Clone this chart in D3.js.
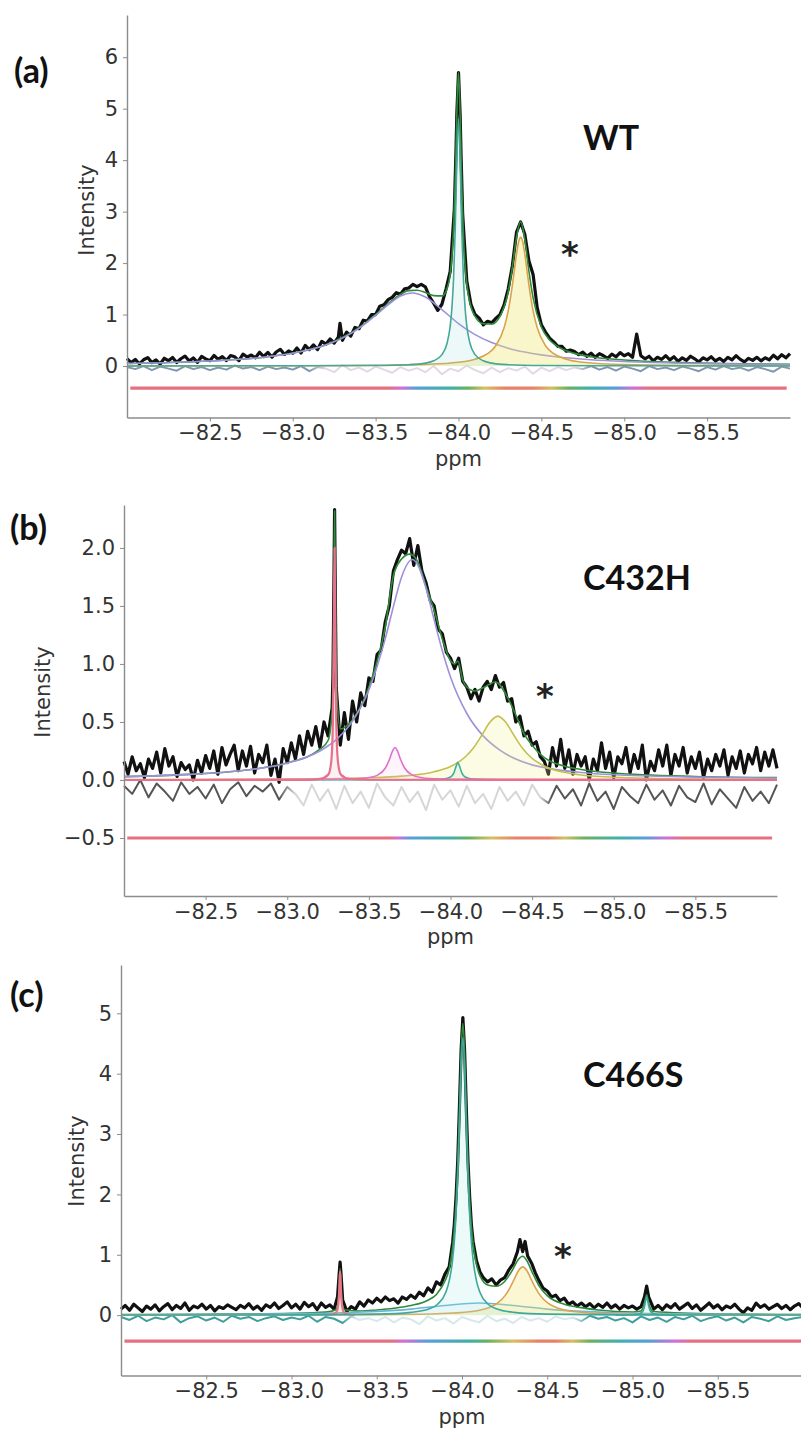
<!DOCTYPE html>
<html>
<head>
<meta charset="utf-8">
<script src="https://cdn.jsdelivr.net/npm/d3@7"></script>
<style>
body { margin: 0; background: #fff; }
</style>
</head>
<body>
<svg id="fig" width="801" height="1433"></svg>
<script>
// ---------- shared ----------
var xTicks = [-82.5, -83.0, -83.5, -84.0, -84.5, -85.0, -85.5];
var residPpm = [-82.0,-82.05,-82.1,-82.15,-82.2,-82.25,-82.3,-82.35,-82.4,-82.45,
  -82.5,-82.55,-82.6,-82.65,-82.7,-82.75,-82.8,-82.85,-82.9,-82.95,
  -83.0,-83.05,-83.1,-83.15,-83.2,-83.25,-83.3,-83.35,-83.4,-83.45,
  -83.5,-83.55,-83.6,-83.65,-83.7,-83.75,-83.8,-83.85,-83.9,-83.95,
  -84.0,-84.05,-84.1,-84.15,-84.2,-84.25,-84.3,-84.35,-84.4,-84.45,
  -84.5,-84.55,-84.6,-84.65,-84.7,-84.75,-84.8,-84.85,-84.9,-84.95,
  -85.0,-85.05,-85.1,-85.15,-85.2,-85.25,-85.3,-85.35,-85.4,-85.45,
  -85.5,-85.55,-85.6,-85.65,-85.7,-85.75,-85.8,-85.85,-85.9,-85.95,-86.0];

// ---------- (a) WT ----------
var yTicksA = [0, 1, 2, 3, 4, 5, 6];
var blackA = [[-82.000,0.145],[-82.025,0.067],[-82.050,0.128],[-82.075,0.040],[-82.100,0.122],[-82.125,0.164],[-82.150,0.066],[-82.175,0.118],[-82.200,0.039],[-82.225,0.151],[-82.250,0.103],[-82.275,0.166],[-82.300,0.068],[-82.325,0.141],[-82.350,0.193],[-82.375,0.096],[-82.400,0.158],[-82.425,0.072],[-82.450,0.186],[-82.475,0.139],[-82.500,0.103],[-82.525,0.206],[-82.550,0.130],[-82.575,0.184],[-82.600,0.108],[-82.625,0.203],[-82.650,0.179],[-82.675,0.104],[-82.700,0.230],[-82.725,0.176],[-82.750,0.213],[-82.775,0.160],[-82.800,0.267],[-82.825,0.185],[-82.850,0.264],[-82.875,0.173],[-82.900,0.273],[-82.925,0.324],[-82.950,0.226],[-82.975,0.292],[-83.000,0.249],[-83.025,0.350],[-83.050,0.254],[-83.075,0.400],[-83.100,0.320],[-83.125,0.410],[-83.150,0.320],[-83.175,0.480],[-83.200,0.425],[-83.225,0.525],[-83.250,0.447],[-83.275,0.560],[-83.285,0.830],[-83.300,0.500],[-83.325,0.660],[-83.350,0.580],[-83.375,0.750],[-83.400,0.725],[-83.425,0.890],[-83.450,0.875],[-83.475,1.000],[-83.500,1.000],[-83.525,1.160],[-83.550,1.190],[-83.575,1.290],[-83.600,1.335],[-83.625,1.425],[-83.650,1.395],[-83.675,1.500],[-83.700,1.515],[-83.725,1.586],[-83.750,1.542],[-83.775,1.586],[-83.800,1.540],[-83.825,1.350],[-83.850,1.220],[-83.875,1.080],[-83.900,1.200],[-83.925,1.500],[-83.950,1.840],[-83.975,3.050],[-83.985,4.200],[-83.990,4.900],[-84.000,5.700],[-84.010,4.860],[-84.015,4.150],[-84.025,2.950],[-84.050,1.650],[-84.075,1.200],[-84.100,1.000],[-84.125,0.930],[-84.150,0.800],[-84.175,0.870],[-84.200,0.840],[-84.225,0.925],[-84.250,1.000],[-84.275,1.190],[-84.300,1.500],[-84.325,1.950],[-84.350,2.600],[-84.375,2.800],[-84.400,2.560],[-84.425,2.040],[-84.450,1.780],[-84.475,1.130],[-84.500,0.800],[-84.525,0.660],[-84.550,0.540],[-84.575,0.470],[-84.600,0.380],[-84.625,0.380],[-84.650,0.290],[-84.675,0.310],[-84.700,0.280],[-84.725,0.220],[-84.750,0.270],[-84.775,0.190],[-84.800,0.250],[-84.825,0.170],[-84.850,0.240],[-84.875,0.200],[-84.900,0.150],[-84.925,0.230],[-84.950,0.180],[-84.975,0.260],[-85.000,0.200],[-85.025,0.240],[-85.050,0.170],[-85.075,0.620],[-85.100,0.200],[-85.125,0.140],[-85.150,0.190],[-85.175,0.100],[-85.200,0.170],[-85.225,0.130],[-85.250,0.200],[-85.275,0.120],[-85.300,0.180],[-85.325,0.090],[-85.350,0.160],[-85.375,0.110],[-85.400,0.190],[-85.425,0.140],[-85.450,0.080],[-85.475,0.160],[-85.500,0.120],[-85.525,0.180],[-85.550,0.100],[-85.575,0.150],[-85.600,0.090],[-85.625,0.170],[-85.650,0.120],[-85.675,0.200],[-85.700,0.130],[-85.725,0.080],[-85.750,0.150],[-85.775,0.110],[-85.800,0.170],[-85.825,0.100],[-85.850,0.160],[-85.875,0.120],[-85.900,0.210],[-85.925,0.140],[-85.950,0.220],[-85.975,0.160],[-86.000,0.240]];
var fitA = [[-82.0,0.05],[-82.5,0.098],[-82.8,0.162],[-83.0,0.254],[-83.2,0.415],[-83.4,0.745],[-83.5,1.0],[-83.6,1.275],[-83.7,1.465],[-83.75,1.472],[-83.8,1.43],[-83.85,1.368],[-83.9,1.363],[-83.925,1.456],[-83.95,1.79],[-83.97,2.645],[-83.98,3.575],[-83.99,4.91],[-84.0,5.7],[-84.01,4.855],[-84.02,3.49],[-84.03,2.52],[-84.04,1.937],[-84.05,1.585],[-84.07,1.21],[-84.1,0.964],[-84.15,0.82],[-84.2,0.816],[-84.25,0.966],[-84.3,1.445],[-84.325,1.918],[-84.35,2.503],[-84.375,2.804],[-84.4,2.464],[-84.425,1.838],[-84.45,1.325],[-84.5,0.758],[-84.55,0.505],[-84.6,0.375],[-84.7,0.246],[-84.8,0.18],[-85.0,0.118],[-85.3,0.071],[-85.6,0.049],[-86.0,0.033]];
var purpleA = [[-82.0,0.05],[-82.5,0.098],[-82.8,0.162],[-83.0,0.247],[-83.2,0.408],[-83.3,0.542],[-83.4,0.732],[-83.5,0.983],[-83.6,1.254],[-83.65,1.359],[-83.72,1.42],[-83.8,1.341],[-83.9,1.095],[-84.0,0.826],[-84.1,0.61],[-84.2,0.456],[-84.3,0.347],[-84.4,0.271],[-84.5,0.216],[-84.6,0.175],[-84.8,0.121],[-85.0,0.088],[-85.3,0.059],[-85.6,0.042],[-86.0,0.029]];
var tealA = [[-82.0,0.001],[-83.0,0.005],[-83.5,0.009],[-83.7,0.026],[-83.8,0.057],[-83.85,0.101],[-83.9,0.222],[-83.93,0.432],[-83.95,0.779],[-83.96,1.115],[-83.97,1.68],[-83.98,2.63],[-83.99,3.98],[-84.0,4.8],[-84.01,3.98],[-84.02,2.63],[-84.03,1.68],[-84.04,1.115],[-84.05,0.779],[-84.07,0.432],[-84.1,0.222],[-84.15,0.101],[-84.2,0.057],[-84.3,0.026],[-84.5,0.009],[-85.0,0.005],[-86.0,0.001]];
var orangeA = [[-82.0,0.002],[-83.0,0.005],[-83.5,0.014],[-83.8,0.032],[-84.0,0.073],[-84.1,0.132],[-84.175,0.239],[-84.225,0.395],[-84.275,0.742],[-84.3,1.072],[-84.325,1.57],[-84.3375,1.875],[-84.35,2.178],[-84.3625,2.41],[-84.375,2.5],[-84.3875,2.41],[-84.4,2.178],[-84.4125,1.875],[-84.425,1.57],[-84.45,1.072],[-84.475,0.742],[-84.525,0.395],[-84.575,0.239],[-84.65,0.132],[-84.75,0.073],[-85.0,0.027],[-85.5,0.008],[-86.0,0.004]];
var residA = [-0.02,-0.06,0.0,-0.08,-0.01,-0.05,-0.09,0.0,-0.06,-0.02,
  -0.08,-0.03,-0.07,0.01,-0.05,-0.02,-0.08,-0.01,-0.06,-0.03,
  -0.07,0.0,-0.1,-0.02,-0.05,-0.12,0.02,-0.08,-0.03,-0.11,
  -0.01,-0.07,-0.13,-0.02,-0.09,-0.04,-0.12,0.0,-0.16,-0.05,
  -0.1,0.01,-0.08,-0.14,-0.03,-0.12,-0.04,-0.09,-0.01,-0.15,
  -0.03,-0.1,-0.02,-0.08,-0.03,-0.06,0.0,-0.07,-0.02,-0.09,
  -0.01,-0.05,-0.1,0.0,-0.06,-0.03,-0.08,-0.01,-0.05,-0.1,
  -0.02,-0.07,0.0,-0.06,-0.03,-0.09,-0.02,-0.06,-0.11,-0.01,-0.05];
var residStopsA = [[-82.0,'#8296ad'],[-83.1,'#8296ad'],[-83.2,'#e2d8e4'],[-84.7,'#e2d8e4'],[-84.8,'#8296ad'],[-86.0,'#8296ad']];
var bandA = [[-82.02,-0.43],[-85.98,-0.43]];
var bandStopsA = [[-82.0,'#e5707f'],[-83.58,'#e5707f'],[-83.66,'#d070d8'],[-83.74,'#5a9ed8'],[-83.95,'#40b0a8'],[-84.06,'#6cb060'],[-84.16,'#d8c060'],[-84.28,'#e8806a'],[-84.45,'#e8806a'],[-84.56,'#d0c060'],[-84.66,'#6cb060'],[-84.8,'#40b0b0'],[-84.95,'#5a9ed8'],[-85.05,'#d070d8'],[-85.15,'#e5707f'],[-86.0,'#e5707f']];

// ---------- (b) C432H ----------
var yTicksB = [-0.5, 0.0, 0.5, 1.0, 1.5, 2.0];
var blackB = [[-82.000,0.16],[-82.025,0.05],[-82.050,0.20],[-82.075,0.08],[-82.100,0.14],[-82.125,0.02],[-82.150,0.18],[-82.175,0.10],[-82.200,0.24],[-82.225,0.06],[-82.250,0.27],[-82.275,0.12],[-82.300,0.20],[-82.325,0.03],[-82.350,0.15],[-82.375,0.09],[-82.400,0.13],[-82.425,0.00],[-82.450,0.17],[-82.475,0.06],[-82.500,0.21],[-82.525,0.10],[-82.550,0.25],[-82.575,0.05],[-82.600,0.28],[-82.625,0.13],[-82.650,0.22],[-82.675,0.30],[-82.700,0.08],[-82.725,0.25],[-82.750,0.12],[-82.775,0.29],[-82.800,0.06],[-82.825,0.22],[-82.850,0.15],[-82.875,0.30],[-82.900,0.04],[-82.925,0.18],[-82.950,-0.02],[-82.975,0.27],[-83.000,0.15],[-83.025,0.32],[-83.050,0.18],[-83.075,0.38],[-83.100,0.22],[-83.125,0.42],[-83.150,0.30],[-83.175,0.46],[-83.200,0.28],[-83.225,0.50],[-83.250,0.38],[-83.275,0.62],[-83.280,0.90],[-83.285,1.55],[-83.290,2.33],[-83.295,1.50],[-83.300,0.80],[-83.325,0.30],[-83.350,0.58],[-83.375,0.35],[-83.400,0.68],[-83.425,0.50],[-83.450,0.75],[-83.475,0.64],[-83.500,0.88],[-83.525,0.85],[-83.550,1.08],[-83.575,1.12],[-83.600,1.36],[-83.625,1.50],[-83.650,1.80],[-83.675,1.90],[-83.700,1.98],[-83.725,1.95],[-83.750,2.08],[-83.775,1.85],[-83.800,2.02],[-83.825,1.80],[-83.850,1.70],[-83.875,1.55],[-83.900,1.50],[-83.925,1.30],[-83.950,1.26],[-83.975,1.10],[-84.000,1.05],[-84.025,0.96],[-84.050,1.05],[-84.075,0.85],[-84.100,0.80],[-84.125,0.70],[-84.150,0.78],[-84.175,0.68],[-84.200,0.80],[-84.225,0.85],[-84.250,0.78],[-84.275,0.90],[-84.300,0.80],[-84.325,0.84],[-84.350,0.68],[-84.375,0.70],[-84.400,0.50],[-84.425,0.55],[-84.450,0.38],[-84.475,0.42],[-84.500,0.30],[-84.525,0.33],[-84.550,0.20],[-84.575,0.16],[-84.600,0.05],[-84.625,0.28],[-84.650,0.12],[-84.675,0.35],[-84.700,0.10],[-84.725,0.26],[-84.750,0.05],[-84.775,0.22],[-84.800,0.12],[-84.825,0.20],[-84.850,0.00],[-84.875,0.18],[-84.900,0.08],[-84.925,0.32],[-84.950,0.10],[-84.975,0.24],[-85.000,0.02],[-85.025,0.20],[-85.050,0.14],[-85.075,0.28],[-85.100,0.06],[-85.125,0.22],[-85.150,0.10],[-85.175,0.30],[-85.200,0.00],[-85.225,0.16],[-85.250,0.08],[-85.275,0.26],[-85.300,0.12],[-85.325,0.30],[-85.350,0.04],[-85.375,0.22],[-85.400,0.12],[-85.425,0.28],[-85.450,0.06],[-85.475,0.20],[-85.500,0.10],[-85.525,0.24],[-85.550,0.02],[-85.575,0.18],[-85.600,0.08],[-85.625,0.22],[-85.650,0.12],[-85.675,0.26],[-85.700,0.04],[-85.725,0.20],[-85.750,0.10],[-85.775,0.25],[-85.800,0.06],[-85.825,0.22],[-85.850,0.14],[-85.875,0.28],[-85.900,0.08],[-85.925,0.24],[-85.950,0.12],[-85.975,0.26],[-86.000,0.10]];
var fitB = [[-82.0,0.029],[-82.4,0.048],[-82.8,0.094],[-83.0,0.148],[-83.2,0.265],[-83.25,0.34],[-83.275,0.6],[-83.28,0.85],[-83.285,1.5],[-83.29,2.32],[-83.295,1.51],[-83.3,0.86],[-83.325,0.44],[-83.4,0.52],[-83.5,0.8],[-83.6,1.317],[-83.65,1.76],[-83.7,1.904],[-83.75,1.947],[-83.8,1.879],[-83.85,1.668],[-83.9,1.461],[-83.95,1.215],[-84.0,1.028],[-84.025,1.0],[-84.045,1.025],[-84.075,0.862],[-84.1,0.801],[-84.15,0.767],[-84.2,0.795],[-84.275,0.845],[-84.35,0.71],[-84.4,0.56],[-84.45,0.40],[-84.5,0.30],[-84.6,0.17],[-84.8,0.09],[-85.0,0.06],[-85.5,0.03],[-86.0,0.02]];
var purpleB = [[-82.0,0.029],[-82.4,0.048],[-82.6,0.065],[-82.8,0.094],[-83.0,0.145],[-83.2,0.25],[-83.3,0.348],[-83.4,0.507],[-83.5,0.775],[-83.6,1.216],[-83.65,1.493],[-83.7,1.748],[-83.765,1.9],[-83.8,1.853],[-83.85,1.653],[-83.9,1.38],[-83.95,1.113],[-84.0,0.887],[-84.1,0.573],[-84.2,0.38],[-84.3,0.26],[-84.4,0.18],[-84.5,0.13],[-84.6,0.1],[-84.8,0.065],[-85.0,0.045],[-85.5,0.025],[-86.0,0.016]];
var magentaB = [[-82.0,0.0],[-83.3,0.006],[-83.45,0.012],[-83.5,0.021],[-83.55,0.04],[-83.6,0.101],[-83.625,0.174],[-83.645,0.25],[-83.66,0.28],[-83.675,0.25],[-83.695,0.174],[-83.72,0.101],[-83.77,0.04],[-83.82,0.021],[-83.87,0.012],[-84.0,0.006],[-86.0,0.0]];
var tealB = [[-82.0,0.0],[-83.8,0.002],[-83.95,0.007],[-84.0,0.025],[-84.02,0.059],[-84.035,0.12],[-84.045,0.15],[-84.055,0.12],[-84.07,0.059],[-84.09,0.025],[-84.14,0.007],[-84.3,0.002],[-86.0,0.0]];
var yellowB = [[-82.0,0.003],[-83.0,0.007],[-83.5,0.019],[-83.7,0.033],[-83.9,0.071],[-84.0,0.116],[-84.09,0.198],[-84.14,0.275],[-84.19,0.381],[-84.24,0.495],[-84.29,0.55],[-84.34,0.495],[-84.39,0.381],[-84.44,0.275],[-84.49,0.198],[-84.59,0.11],[-84.69,0.068],[-84.79,0.045],[-85.0,0.024],[-85.5,0.008],[-86.0,0.004]];
var pinkB = [[-82.0,0.0],[-83.1,0.001],[-83.2,0.009],[-83.25,0.044],[-83.265,0.11],[-83.275,0.276],[-83.28,0.53],[-83.285,1.18],[-83.29,2.0],[-83.295,1.18],[-83.3,0.53],[-83.305,0.276],[-83.315,0.11],[-83.33,0.044],[-83.38,0.009],[-83.5,0.002],[-86.0,0.0]];
var residB = [-0.05,-0.12,0.0,-0.15,-0.03,-0.1,-0.18,-0.02,-0.12,-0.06,
  -0.16,-0.04,-0.2,-0.08,-0.02,-0.14,-0.05,-0.1,-0.03,-0.17,
  -0.06,-0.12,-0.22,-0.04,-0.18,-0.08,-0.25,-0.05,-0.2,-0.1,
  -0.24,-0.03,-0.15,-0.22,-0.06,-0.19,-0.1,-0.26,-0.04,-0.17,
  -0.09,-0.23,-0.05,-0.2,-0.12,-0.25,-0.06,-0.18,-0.1,-0.22,
  -0.04,-0.15,-0.2,-0.05,-0.16,-0.08,-0.22,-0.03,-0.18,-0.1,
  -0.25,-0.06,-0.14,-0.2,-0.04,-0.17,-0.09,-0.22,-0.05,-0.15,
  -0.19,-0.03,-0.21,-0.08,-0.16,-0.24,-0.06,-0.18,-0.1,-0.2,-0.04];
var residStopsB = [[-82.0,'#555555'],[-82.95,'#555555'],[-83.05,'#d6d6d6'],[-84.55,'#d6d6d6'],[-84.62,'#555555'],[-86.0,'#555555']];
var bandB = [[-82.02,-0.5],[-85.97,-0.5]];
var bandStopsB = [[-82.0,'#e5707f'],[-83.63,'#e5707f'],[-83.68,'#d070d8'],[-83.75,'#5a9ed8'],[-84.0,'#40b0a8'],[-84.12,'#6cb060'],[-84.25,'#d8c060'],[-84.4,'#e8806a'],[-84.6,'#e8806a'],[-84.7,'#d0c060'],[-84.82,'#6cb060'],[-85.05,'#40b0b0'],[-85.2,'#5a9ed8'],[-85.32,'#d070d8'],[-85.42,'#e5707f'],[-86.0,'#e5707f']];

// ---------- (c) C466S ----------
var yTicksC = [0, 1, 2, 3, 4, 5];
var blackC = [[-82.000,0.10],[-82.025,0.16],[-82.050,0.08],[-82.075,0.18],[-82.100,0.12],[-82.125,0.06],[-82.150,0.15],[-82.175,0.10],[-82.200,0.17],[-82.225,0.07],[-82.250,0.14],[-82.275,0.19],[-82.300,0.09],[-82.325,0.16],[-82.350,0.11],[-82.375,0.20],[-82.400,0.08],[-82.425,0.15],[-82.450,0.12],[-82.475,0.18],[-82.500,0.10],[-82.525,0.16],[-82.550,0.07],[-82.575,0.14],[-82.600,0.11],[-82.625,0.17],[-82.650,0.13],[-82.675,0.09],[-82.700,0.16],[-82.725,0.12],[-82.750,0.19],[-82.775,0.10],[-82.800,0.15],[-82.825,0.08],[-82.850,0.17],[-82.875,0.13],[-82.900,0.20],[-82.925,0.11],[-82.950,0.16],[-82.975,0.22],[-83.000,0.12],[-83.025,0.18],[-83.050,0.10],[-83.075,0.21],[-83.100,0.14],[-83.125,0.19],[-83.150,0.09],[-83.175,0.20],[-83.200,0.13],[-83.225,0.17],[-83.250,0.10],[-83.270,0.30],[-83.280,0.70],[-83.285,0.88],[-83.290,0.70],[-83.300,0.25],[-83.325,0.06],[-83.350,0.14],[-83.375,0.10],[-83.400,0.22],[-83.425,0.15],[-83.450,0.25],[-83.475,0.20],[-83.500,0.28],[-83.525,0.22],[-83.550,0.30],[-83.575,0.24],[-83.600,0.27],[-83.625,0.20],[-83.650,0.30],[-83.675,0.26],[-83.700,0.33],[-83.725,0.28],[-83.750,0.38],[-83.775,0.32],[-83.800,0.45],[-83.825,0.38],[-83.850,0.55],[-83.875,0.50],[-83.900,0.68],[-83.925,0.80],[-83.945,1.20],[-83.955,1.50],[-83.965,1.95],[-83.975,2.55],[-83.985,3.45],[-83.995,4.40],[-84.005,4.93],[-84.015,4.40],[-84.025,3.45],[-84.035,2.55],[-84.045,1.95],[-84.055,1.50],[-84.065,1.22],[-84.085,0.90],[-84.105,0.72],[-84.125,0.62],[-84.150,0.55],[-84.175,0.60],[-84.200,0.50],[-84.225,0.58],[-84.250,0.62],[-84.275,0.75],[-84.300,0.85],[-84.325,1.05],[-84.340,1.25],[-84.356,1.05],[-84.370,1.22],[-84.385,0.98],[-84.410,0.85],[-84.430,0.70],[-84.450,0.58],[-84.475,0.45],[-84.500,0.40],[-84.525,0.30],[-84.550,0.33],[-84.575,0.24],[-84.600,0.28],[-84.625,0.18],[-84.650,0.22],[-84.675,0.15],[-84.700,0.20],[-84.725,0.14],[-84.750,0.19],[-84.775,0.12],[-84.800,0.18],[-84.825,0.13],[-84.850,0.20],[-84.875,0.12],[-84.900,0.17],[-84.925,0.10],[-84.950,0.16],[-84.975,0.12],[-85.000,0.15],[-85.025,0.10],[-85.050,0.14],[-85.070,0.30],[-85.083,0.48],[-85.095,0.30],[-85.125,0.10],[-85.150,0.16],[-85.175,0.09],[-85.200,0.17],[-85.225,0.12],[-85.250,0.19],[-85.275,0.10],[-85.300,0.15],[-85.325,0.20],[-85.350,0.11],[-85.375,0.17],[-85.400,0.08],[-85.425,0.14],[-85.450,0.20],[-85.475,0.12],[-85.500,0.17],[-85.525,0.09],[-85.550,0.15],[-85.575,0.12],[-85.600,0.18],[-85.625,0.10],[-85.650,0.04],[-85.675,0.12],[-85.700,0.08],[-85.725,0.20],[-85.750,0.13],[-85.775,0.17],[-85.800,0.10],[-85.825,0.14],[-85.850,0.18],[-85.875,0.11],[-85.900,0.16],[-85.925,0.09],[-85.950,0.15],[-85.975,0.19],[-86.000,0.12]];
var fitC = [[-82.0,0.01],[-82.5,0.015],[-83.0,0.03],[-83.2,0.05],[-83.26,0.09],[-83.275,0.25],[-83.28,0.47],[-83.285,0.77],[-83.29,0.47],[-83.295,0.25],[-83.31,0.09],[-83.4,0.067],[-83.5,0.086],[-83.6,0.114],[-83.7,0.159],[-83.8,0.247],[-83.85,0.343],[-83.9,0.567],[-83.925,0.765],[-83.945,1.127],[-83.955,1.429],[-83.965,1.872],[-83.975,2.52],[-83.985,3.414],[-83.995,4.368],[-84.005,4.833],[-84.015,4.377],[-84.025,3.431],[-84.035,2.546],[-84.045,1.907],[-84.055,1.473],[-84.065,1.179],[-84.085,0.834],[-84.105,0.655],[-84.155,0.494],[-84.2,0.478],[-84.25,0.557],[-84.3,0.767],[-84.33,0.923],[-84.356,0.976],[-84.38,0.904],[-84.41,0.722],[-84.45,0.495],[-84.5,0.323],[-84.6,0.18],[-84.7,0.124],[-84.8,0.084],[-85.0,0.053],[-85.05,0.07],[-85.07,0.2],[-85.083,0.335],[-85.095,0.2],[-85.12,0.06],[-85.5,0.02],[-86.0,0.01]];
var tealC = [[-82.0,0.001],[-83.0,0.004],[-83.5,0.0165],[-83.7,0.046],[-83.805,0.101],[-83.855,0.177],[-83.905,0.38],[-83.925,0.567],[-83.945,0.92],[-83.955,1.218],[-83.965,1.656],[-83.975,2.3],[-83.985,3.19],[-83.995,4.14],[-84.005,4.6],[-84.015,4.14],[-84.025,3.19],[-84.035,2.3],[-84.045,1.656],[-84.055,1.218],[-84.065,0.92],[-84.085,0.567],[-84.105,0.38],[-84.155,0.177],[-84.205,0.101],[-84.305,0.046],[-84.5,0.0165],[-85.0,0.004],[-86.0,0.001]];
var broadC = [[-82.0,0.007],[-82.5,0.012],[-83.0,0.023],[-83.3,0.04],[-83.5,0.0615],[-83.7,0.1],[-83.9,0.16],[-84.1,0.2],[-84.3,0.16],[-84.5,0.1],[-84.7,0.0615],[-84.9,0.04],[-85.2,0.023],[-85.6,0.013],[-86.0,0.0085]];
var orangeC = [[-82.0,0.001],[-83.0,0.003],[-83.5,0.008],[-83.856,0.022],[-84.056,0.059],[-84.156,0.122],[-84.206,0.194],[-84.256,0.336],[-84.281,0.45],[-84.306,0.594],[-84.331,0.736],[-84.356,0.8],[-84.381,0.736],[-84.406,0.594],[-84.431,0.45],[-84.456,0.336],[-84.506,0.194],[-84.556,0.122],[-84.656,0.059],[-84.856,0.022],[-85.5,0.004],[-86.0,0.002]];
var pinkC = [[-83.2,0.0],[-83.235,0.01],[-83.26,0.039],[-83.27,0.099],[-83.275,0.19],[-83.279,0.36],[-83.282,0.576],[-83.285,0.72],[-83.288,0.576],[-83.291,0.36],[-83.295,0.19],[-83.3,0.099],[-83.31,0.039],[-83.335,0.01],[-83.37,0.0]];
var smallTealC = [[-84.9,0.0],[-85.0,0.006],[-85.033,0.017],[-85.053,0.041],[-85.063,0.079],[-85.071,0.15],[-85.077,0.24],[-85.083,0.3],[-85.089,0.24],[-85.095,0.15],[-85.103,0.079],[-85.113,0.041],[-85.133,0.017],[-85.166,0.006],[-85.25,0.0]];
var residC = [-0.03,-0.08,-0.01,-0.1,-0.04,-0.07,0.0,-0.12,-0.05,-0.02,
  -0.09,-0.04,-0.11,-0.01,-0.06,-0.03,-0.1,-0.05,-0.02,-0.08,
  -0.04,-0.07,-0.01,-0.11,-0.03,-0.06,-0.13,-0.02,-0.08,-0.05,
  -0.1,-0.03,-0.12,-0.04,-0.07,-0.15,-0.02,-0.09,-0.05,-0.14,
  -0.03,-0.08,-0.12,-0.01,-0.1,-0.06,-0.13,-0.03,-0.09,-0.05,
  -0.11,-0.02,-0.07,-0.04,-0.1,-0.01,-0.06,-0.03,-0.09,-0.05,
  -0.12,-0.02,-0.08,-0.04,-0.11,-0.03,-0.07,-0.01,-0.1,-0.05,
  -0.02,-0.09,-0.04,-0.12,-0.03,-0.06,-0.1,-0.02,-0.08,-0.05,-0.03];
var residStopsC = [[-82.0,'#3f9e9e'],[-83.3,'#3f9e9e'],[-83.38,'#d5e8ec'],[-84.65,'#d5e8ec'],[-84.75,'#3f9e9e'],[-86.0,'#3f9e9e']];
var bandC = [[-82.02,-0.43],[-86.0,-0.43]];
var bandStopsC = [[-82.0,'#e5707f'],[-83.58,'#e5707f'],[-83.66,'#d070d8'],[-83.8,'#5a9ed8'],[-84.05,'#40b0a8'],[-84.15,'#6cb060'],[-84.3,'#d8c060'],[-84.45,'#e8806a'],[-84.55,'#e8806a'],[-84.65,'#d0c060'],[-84.75,'#6cb060'],[-84.92,'#40b0b0'],[-85.1,'#5a9ed8'],[-85.25,'#d070d8'],[-85.35,'#e5707f'],[-86.0,'#e5707f']];

// ---------- layout ----------
var panels = [
  {id: 'a', letter: '(a)', title: 'WT', l: 127, r: 790, t: 15, b: 417.5, yDom: [-1, 6.82],
   yTicks: yTicksA, yFmt: d3.format('d'), black: blackA, fit: fitA, resid: residA,
   residStops: residStopsA, band: bandA, bandStops: bandStopsA,
   comps: [
     {data: purpleA, stroke: '#9d92da', fill: 'none', op: 0},
     {data: orangeA, stroke: '#d9a54a', fill: '#f2e46a', op: 0.35},
     {data: tealA, stroke: '#45a898', fill: '#7fd8d0', op: 0.14}
   ],
   letterPos: [14, 83], titlePos: [583, 150], starPos: [570, 266], ylabPos: [94, 210]},
  {id: 'b', letter: '(b)', title: 'C432H', l: 124, r: 777, t: 505, b: 896, yDom: [-1, 2.37],
   yTicks: yTicksB, yFmt: d3.format('.1f'), black: blackB, fit: fitB, resid: residB,
   residStops: residStopsB, band: bandB, bandStops: bandStopsB,
   comps: [
     {data: purpleB, stroke: '#9d92da', fill: 'none', op: 0},
     {data: yellowB, stroke: '#c4c050', fill: '#f2ec80', op: 0.22},
     {data: tealB, stroke: '#3fae9c', fill: '#7fd8d0', op: 0.12},
     {data: magentaB, stroke: '#e070d0', fill: '#f0a8e8', op: 0.12},
     {data: pinkB, stroke: '#e8708a', fill: '#f0a0b0', op: 0.15, w: 2.2}
   ],
   letterPos: [10, 540], titlePos: [583, 590], starPos: [545, 708], ylabPos: [50, 692]},
  {id: 'c', letter: '(c)', title: 'C466S', l: 121, r: 803, t: 965, b: 1375.5, yDom: [-1, 5.8],
   yTicks: yTicksC, yFmt: d3.format('d'), black: blackC, fit: fitC, resid: residC,
   residStops: residStopsC, band: bandC, bandStops: bandStopsC,
   comps: [
     {data: broadC, stroke: '#6ab6d6', fill: '#bfe6f2', op: 0.12},
     {data: orangeC, stroke: '#dea252', fill: '#f2e46a', op: 0.3},
     {data: smallTealC, stroke: '#3fa89c', fill: '#7fd8d0', op: 0.15},
     {data: pinkC, stroke: '#e87888', fill: '#f0a0b0', op: 0.2, w: 2.2},
     {data: tealC, stroke: '#3fa89c', fill: '#9fe6e2', op: 0.2}
   ],
   letterPos: [10, 1007], titlePos: [583, 1087], starPos: [563, 1268], ylabPos: [84, 1161]}
];

var svg = d3.select('#fig');
var defs = svg.append('defs');

function addGradient(id, stops, x) {
  var frac = d3.scaleLinear().domain([-82, -86]).range([0, 1]);
  var grad = defs.append('linearGradient')
    .attr('id', id)
    .attr('gradientUnits', 'userSpaceOnUse')
    .attr('x1', x(-82)).attr('x2', x(-86))
    .attr('y1', 0).attr('y2', 0);
  grad.selectAll('stop').data(stops).enter().append('stop')
    .attr('offset', function(d) { return frac(d[0]); })
    .attr('stop-color', function(d) { return d[1]; });
}

panels.forEach(function(p) {
  var x = d3.scaleLinear().domain([-82, -86]).range([p.l, p.r]);
  var y = d3.scaleLinear().domain(p.yDom).range([p.b, p.t]);
  var g = svg.append('g');

  addGradient('resid-' + p.id, p.residStops, x);
  addGradient('band-' + p.id, p.bandStops, x);

  var straight = d3.line()
    .x(function(d) { return x(d[0]); })
    .y(function(d) { return y(d[1]); });
  var smooth = d3.line().curve(d3.curveMonotoneX)
    .x(function(d) { return x(d[0]); })
    .y(function(d) { return y(d[1]); });
  var under = d3.area().curve(d3.curveMonotoneX)
    .x(function(d) { return x(d[0]); })
    .y0(y(0))
    .y1(function(d) { return y(d[1]); });

  // residual
  var resid = p.resid.map(function(v, i) { return [residPpm[i], v]; });
  g.append('path').attr('d', straight(resid))
    .attr('fill', 'none').attr('stroke', 'url(#resid-' + p.id + ')')
    .attr('stroke-width', 2).attr('stroke-linejoin', 'round');

  // measured spectrum
  g.append('path').attr('d', straight(p.black))
    .attr('fill', 'none').attr('stroke', '#111')
    .attr('stroke-width', 3.2).attr('stroke-linejoin', 'round');

  // total fit
  g.append('path').attr('d', smooth(p.fit))
    .attr('fill', 'none').attr('stroke', '#2f8a3a')
    .attr('stroke-width', 1.6);

  // fitted components
  p.comps.forEach(function(c) {
    if (c.op > 0) {
      g.append('path').attr('d', under(c.data))
        .attr('fill', c.fill).attr('fill-opacity', c.op).attr('stroke', 'none');
    }
    g.append('path').attr('d', smooth(c.data))
      .attr('fill', 'none').attr('stroke', c.stroke)
      .attr('stroke-width', c.w || 1.6);
  });

  // coloured band below the baseline
  g.append('path').attr('d', straight(p.band))
    .attr('fill', 'none').attr('stroke', 'url(#band-' + p.id + ')')
    .attr('stroke-width', 3.2);

  // axes
  var yAxis = d3.axisLeft(y).tickValues(p.yTicks).tickFormat(p.yFmt)
    .tickSize(4).tickSizeOuter(0).tickPadding(5);
  var xAxis = d3.axisBottom(x).tickValues(xTicks).tickFormat(d3.format('.1f'))
    .tickSize(4).tickSizeOuter(0).tickPadding(4);

  var ya = g.append('g').attr('transform', 'translate(' + p.l + ',0)').call(yAxis);
  var xa = g.append('g').attr('transform', 'translate(0,' + p.b + ')').call(xAxis);
  [ya, xa].forEach(function(a) {
    a.select('.domain').attr('stroke', '#8c8c8c').attr('stroke-width', 1.4);
    a.selectAll('.tick line').attr('stroke', '#8c8c8c');
    a.selectAll('.tick text').attr('fill', '#333')
      .style('font-family', 'DejaVu Sans').style('font-size', '21px');
  });

  g.append('text')
    .attr('x', (p.l + p.r) / 2).attr('y', p.b + 48)
    .attr('text-anchor', 'middle')
    .style('font-family', 'DejaVu Sans').style('font-size', '21px')
    .attr('fill', '#333').text('ppm');

  g.append('text')
    .attr('transform', 'translate(' + p.ylabPos[0] + ',' + p.ylabPos[1] + ') rotate(-90)')
    .attr('text-anchor', 'middle')
    .style('font-family', 'DejaVu Sans').style('font-size', '21px')
    .attr('fill', '#333').text('Intensity');

  // labels
  g.append('text').attr('x', p.letterPos[0]).attr('y', p.letterPos[1])
    .style('font-family', 'Lato').style('font-weight', 'bold').style('font-size', '34px')
    .attr('fill', '#111').text(p.letter);
  g.append('text').attr('x', p.titlePos[0]).attr('y', p.titlePos[1])
    .style('font-family', 'Lato').style('font-weight', 'bold').style('font-size', '34px')
    .attr('fill', '#111').text(p.title);
  g.append('text').attr('x', p.starPos[0]).attr('y', p.starPos[1])
    .attr('text-anchor', 'middle')
    .style('font-family', 'DejaVu Sans').style('font-weight', 'bold').style('font-size', '34px')
    .attr('fill', '#222').text('*');
});
</script>
</body>
</html>
